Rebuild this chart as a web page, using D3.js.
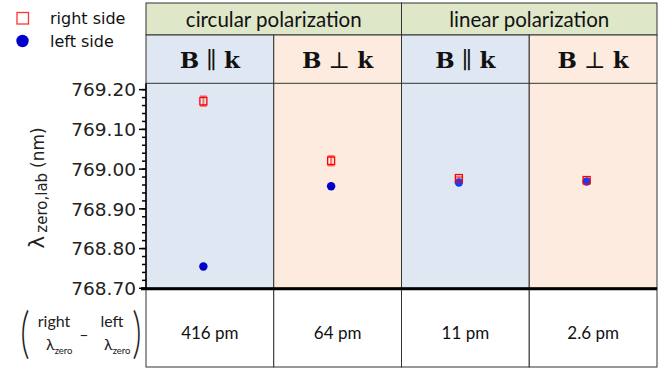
<!DOCTYPE html>
<html><head><meta charset="utf-8">
<script src="https://cdn.jsdelivr.net/npm/d3@7"></script>
<style>body{margin:0;background:#fff}svg{display:block}</style>
</head><body><svg id="c" width="663" height="371"></svg>
<script>
const groups = ["circular polarization", "linear polarization"];
const columns = ["B \u2225 k", "B \u22A5 k", "B \u2225 k", "B \u22A5 k"];
const rightSide = [769.171, 769.021, 768.977, 768.972];
const rightErr = [0.012, 0.012, 0.003, 0.003];
const leftSide = [768.755, 768.957, 768.966, 768.969];
const leftErr = [0.003, 0.006, 0.003, 0.002];
const diffLabels = ["416 pm", "64 pm", "11 pm", "2.6 pm"];
const yTicks = [768.70, 768.80, 768.90, 769.00, 769.10, 769.20];

const svg = d3.select("#c");
const L = 146, R = 657;
const x = d3.scaleBand().domain(d3.range(4)).range([L, R]).padding(0);
const y = d3.scaleLinear().domain([768.70, 769.216]).range([288.3, 83.3]);
const colFill = ["#dfe7f2", "#fcebde", "#dfe7f2", "#fcebde"];
const border = "#333";
const sansHdr = "Lato, 'Open Sans', sans-serif";

// header row 1
groups.forEach((g, i) => {
  const x0 = x(i * 2), x1 = x(i * 2 + 1) + x.bandwidth();
  svg.append("rect").attr("x", x0).attr("y", 3).attr("width", x1 - x0).attr("height", 32)
    .attr("fill", "#dfe7c9").attr("stroke", border).attr("stroke-width", 1);
  svg.append("text").attr("x", (x0 + x1) / 2).attr("y", 26.5).attr("text-anchor", "middle")
    .attr("font-family", sansHdr).attr("font-size", 20.5).attr("fill", "#111").text(g);
});
// header row 2 + plot column backgrounds
columns.forEach((c, i) => {
  svg.append("rect").attr("x", x(i)).attr("y", 35).attr("width", x.bandwidth()).attr("height", 288.3 - 35)
    .attr("fill", colFill[i]).attr("stroke", border).attr("stroke-width", 1);
  const t = svg.append("text").attr("x", x(i) + x.bandwidth() / 2).attr("y", 68).attr("text-anchor", "middle")
    .attr("font-family", "'DejaVu Serif', serif").attr("font-weight", "bold").attr("font-size", 23).attr("fill", "#111");
  const parts = c.split(" ");
  t.append("tspan").text(parts[0]);
  t.append("tspan").attr("font-weight", "normal").attr("dx", 7).text(parts[1]);
  t.append("tspan").attr("dx", 7).text(parts[2]);
});
svg.append("line").attr("x1", L).attr("x2", R).attr("y1", 83.3).attr("y2", 83.3).attr("stroke", border);

// bottom table
columns.forEach((c, i) => {
  svg.append("rect").attr("x", x(i)).attr("y", 288.3).attr("width", x.bandwidth()).attr("height", 367 - 288.3)
    .attr("fill", "#fff").attr("stroke", border).attr("stroke-width", 1);
  svg.append("text").attr("x", x(i) + x.bandwidth() / 2).attr("y", 339).attr("text-anchor", "middle")
    .attr("font-family", sansHdr).attr("font-size", 17).attr("fill", "#111").text(diffLabels[i]);
});
svg.append("line").attr("x1", 141).attr("x2", R).attr("y1", 288.8).attr("y2", 288.8).attr("stroke", "#000").attr("stroke-width", 3);

// y axis
const minor = d3.range(768.70, 769.2201, 0.02);
const axG = svg.append("g");
axG.append("line").attr("x1", 146).attr("x2", 146).attr("y1", 83.3).attr("y2", 288.3).attr("stroke", "#000").attr("stroke-width", 1.5);
axG.selectAll("line.mi").data(minor.filter(v => y(v) >= 83)).join("line").attr("class", "mi")
  .attr("x1", 142).attr("x2", 146).attr("y1", d => y(d)).attr("y2", d => y(d)).attr("stroke", "#000").attr("stroke-width", 1.5);
axG.selectAll("line.ma").data(yTicks).join("line").attr("class", "ma")
  .attr("x1", 139).attr("x2", 146).attr("y1", d => y(d)).attr("y2", d => y(d)).attr("stroke", "#000").attr("stroke-width", 1.5);
axG.selectAll("text").data(yTicks).join("text")
  .attr("x", 136).attr("y", d => y(d)).attr("dy", "0.36em").attr("text-anchor", "end")
  .attr("font-family", "'DejaVu Sans', sans-serif").attr("font-size", 18.5).attr("fill", "#222")
  .text(d => d3.format(".2f")(d));

// y title
const yt = svg.append("text").attr("transform", "translate(44,188) rotate(-90)").attr("text-anchor", "middle")
  .attr("font-family", "'DejaVu Sans', sans-serif").attr("fill", "#222");
yt.append("tspan").attr("font-size", 22).text("\u03BB");
yt.append("tspan").attr("font-size", 15).attr("dx", 3).attr("dy", 3).text("zero,lab");
yt.append("tspan").attr("font-size", 17).attr("dx", 5).attr("dy", -3).text("(nm)");

// bottom-left formula
const fm = svg.append("g").attr("font-family", sansHdr).attr("fill", "#222");
fm.append("text").attr("x", 25).attr("y", 352).attr("text-anchor", "middle").attr("font-size", 56)
  .attr("font-weight", 300).attr("transform", "translate(25,337) scale(0.65,1) translate(-25,-337)").text("(");
fm.append("text").attr("x", 137).attr("y", 352).attr("text-anchor", "middle").attr("font-size", 56)
  .attr("font-weight", 300).attr("transform", "translate(137,337) scale(0.65,1) translate(-137,-337)").text(")");
fm.append("text").attr("x", 54).attr("y", 327).attr("text-anchor", "middle").attr("font-size", 16).text("right");
fm.append("text").attr("x", 112).attr("y", 327).attr("text-anchor", "middle").attr("font-size", 16).text("left");
fm.append("text").attr("x", 84).attr("y", 340).attr("text-anchor", "middle").attr("font-size", 16).text("\u2013");
[46, 104].forEach(px => {
  const t = fm.append("text").attr("x", px).attr("y", 350).attr("font-size", 16);
  t.append("tspan").text("\u03BB");
  t.append("tspan").attr("font-size", 9.5).attr("dy", 4).text("zero");
});

// data
const cx = i => x(i) + x.bandwidth() / 2 - 6.5;
const pts = svg.append("g");
const errColor = "rgba(255,40,40,0.6)";
rightSide.forEach((v, i) => {
  const e = rightErr[i];
  pts.append("line").attr("x1", cx(i)).attr("x2", cx(i)).attr("y1", y(v + e)).attr("y2", y(v - e)).attr("stroke", errColor).attr("stroke-width", 2);
  [v + e, v - e].forEach(w => pts.append("line").attr("x1", cx(i) - 3.5).attr("x2", cx(i) + 3.5).attr("y1", y(w)).attr("y2", y(w)).attr("stroke", errColor).attr("stroke-width", 2));
});
leftSide.forEach((v, i) => {
  const e = leftErr[i];
  pts.append("line").attr("x1", cx(i)).attr("x2", cx(i)).attr("y1", y(v + e)).attr("y2", y(v - e)).attr("stroke", "rgba(60,60,230,0.5)").attr("stroke-width", 2);
  pts.append("circle").attr("cx", cx(i)).attr("cy", y(v)).attr("r", 4.2).attr("fill", i < 2 ? "#0000cc" : "#0a40ff");
});
rightSide.forEach((v, i) => {
  pts.append("rect").attr("x", cx(i) - 3.5).attr("y", y(v) - 3.7).attr("width", 7).attr("height", 7.4)
    .attr("fill", "none").attr("stroke", "#ff0000").attr("stroke-width", 1.3);
});

// legend
svg.append("rect").attr("x", 17).attr("y", 12.5).attr("width", 11.5).attr("height", 11.5).attr("fill", "#fff").attr("stroke", "#ff3333").attr("stroke-width", 1.3);
svg.append("circle").attr("cx", 22.5).attr("cy", 41).attr("r", 6.2).attr("fill", "#0000cc");
svg.append("text").attr("x", 50).attr("y", 23.5).attr("font-family", "'DejaVu Sans', sans-serif").attr("font-size", 16).attr("fill", "#111").text("right side");
svg.append("text").attr("x", 50).attr("y", 46.5).attr("font-family", "'DejaVu Sans', sans-serif").attr("font-size", 16).attr("fill", "#111").text("left side");
</script></body></html>
